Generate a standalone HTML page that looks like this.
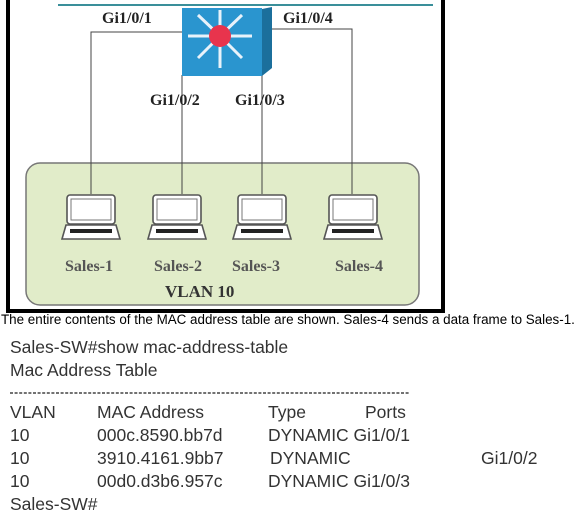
<!DOCTYPE html>
<html><head><meta charset="utf-8"><style>
html,body{margin:0;padding:0;background:#fff;width:578px;height:515px;overflow:hidden;}
svg{display:block}
</style></head><body>
<svg width="578" height="515" xmlns="http://www.w3.org/2000/svg">
<defs>
<g id="lap">
<rect x="5" y="0" width="48" height="29" rx="3" fill="#fff" stroke="#555" stroke-width="1.6"/>
<rect x="9" y="4" width="40" height="21" fill="#fff" stroke="#777" stroke-width="1"/>
<path d="M4 30 L54 30 L58 44 L0 44 Z" fill="#fff" stroke="#555" stroke-width="1.6"/>
<rect x="8" y="34" width="42" height="4" fill="#222"/>
</g>
</defs>
<rect x="6" y="0" width="4" height="313" fill="#000"/>
<rect x="441" y="0" width="4" height="313" fill="#000"/>
<rect x="6" y="309" width="439" height="4" fill="#000"/>
<line x1="58" y1="5" x2="433" y2="5" stroke="#3a8f9a" stroke-width="2"/>
<rect x="26" y="163" width="393" height="142" rx="14" fill="#e1ecc9" stroke="#777" stroke-width="1.5"/>
<g stroke="#444" stroke-width="1" fill="none">
<polyline points="183,32 91,32 91,194"/>
<line x1="182" y1="75" x2="182" y2="194"/>
<line x1="262" y1="75" x2="262" y2="194"/>
<polyline points="268,29 352,29 352,194"/>
</g>
<polygon points="262,9 272,7 272,68 262,76" fill="#1b6f9c"/>
<rect x="182" y="8" width="80" height="68" fill="#2a95cf"/>
<g stroke="#e8f2fa" stroke-width="3" fill="#e8f2fa">
<line x1="220" y1="36" x2="220" y2="10"/><line x1="220" y1="36" x2="220" y2="68"/>
<line x1="220" y1="36" x2="188" y2="36"/><line x1="220" y1="36" x2="252" y2="36"/>
<line x1="220" y1="36" x2="198" y2="15"/><line x1="220" y1="36" x2="242" y2="15"/>
<line x1="220" y1="36" x2="198" y2="58"/><line x1="220" y1="36" x2="242" y2="58"/>
</g>
<circle cx="220" cy="36" r="11" fill="#e8344d"/>
<use href="#lap" x="62" y="195"/>
<use href="#lap" x="148" y="195"/>
<use href="#lap" x="233" y="195"/>
<use href="#lap" x="324" y="195"/>
<g font-family="Liberation Serif, serif" font-weight="bold" font-size="16" fill="#222">
<text x="102" y="23">Gi1/0/1</text>
<text x="283" y="23">Gi1/0/4</text>
<text x="150" y="105">Gi1/0/2</text>
<text x="235" y="105">Gi1/0/3</text>
</g>
<g font-family="Liberation Serif, serif" font-weight="bold" font-size="16" fill="#555">
<text x="65" y="271">Sales-1</text>
<text x="154" y="271">Sales-2</text>
<text x="232" y="271">Sales-3</text>
<text x="335" y="271">Sales-4</text>
</g>
<text x="165" y="297" font-family="Liberation Serif, serif" font-weight="bold" font-size="17" fill="#333">VLAN 10</text>
<text x="1" y="324" font-family="Liberation Sans, sans-serif" font-size="13.4" fill="#000">The entire contents of the MAC address table are shown. Sales-4 sends a data frame to Sales-1.</text>
<line x1="10" y1="393" x2="410" y2="393" stroke="#444" stroke-width="1.6" stroke-dasharray="3 1.6"/>
<g font-family="Liberation Sans, sans-serif" font-size="17.5" fill="#333">
<text x="10" y="353">Sales-SW#show mac-address-table</text>
<text x="10" y="376">Mac Address Table</text>
<text x="10" y="418">VLAN</text><text x="97" y="418">MAC Address</text><text x="268" y="418">Type</text><text x="365" y="418">Ports</text>
<text x="10" y="441">10</text><text x="97" y="441">000c.8590.bb7d</text><text x="268" y="441">DYNAMIC Gi1/0/1</text>
<text x="10" y="464">10</text><text x="97" y="464">3910.4161.9bb7</text><text x="270" y="464">DYNAMIC</text><text x="481" y="464">Gi1/0/2</text>
<text x="10" y="487">10</text><text x="97" y="487">00d0.d3b6.957c</text><text x="268" y="487">DYNAMIC Gi1/0/3</text>
<text x="10" y="510">Sales-SW#</text>
</g>
</svg>
</body></html>
